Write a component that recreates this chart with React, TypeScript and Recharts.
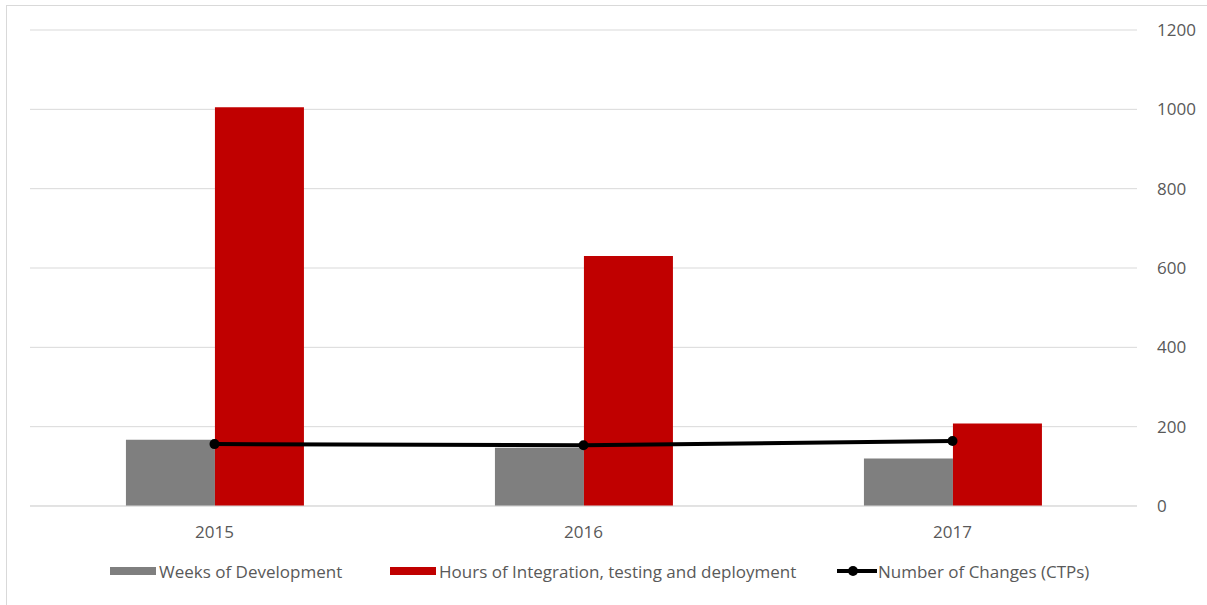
import React from "react";
import {
  ComposedChart,
  Bar,
  Line,
  XAxis,
  YAxis,
  CartesianGrid,
} from "recharts";

const years = ["2015", "2016", "2017"];
const weeksOfDevelopment = [167, 147, 120];
const hoursOfIntegration = [1005, 630, 208];
const numberOfChanges = [156, 153, 164];
const yTicks = [0, 200, 400, 600, 800, 1000, 1200];

const data = years.map((year, i) => ({
  year,
  weeks: weeksOfDevelopment[i],
  hours: hoursOfIntegration[i],
  changes: numberOfChanges[i],
}));

const FONT = "'Open Sans', sans-serif";
const TEXT = "#595959";

const legendItems = [
  { label: "Weeks of Development", color: "#7f7f7f", kind: "bar", left: 110 },
  { label: "Hours of Integration, testing and deployment", color: "#c00000", kind: "bar", left: 390 },
  { label: "Number of Changes (CTPs)", color: "#000000", kind: "line", left: 837 },
];

const App: React.FC = () => {
  return (
    <div
      style={{
        position: "absolute",
        left: 0,
        top: 0,
        width: 1207,
        height: 605,
        background: "#fff",
        fontFamily: FONT,
      }}
    >
      {/* outer chart frame */}
      <div
        style={{
          position: "absolute",
          left: 6,
          top: 5,
          right: 0,
          bottom: 0,
          borderTop: "1px solid #d9d9d9",
          borderLeft: "1px solid #d9d9d9",
        }}
      />
      <ComposedChart
        width={1207}
        height={605}
        data={data}
        margin={{ top: 30, right: 0, left: 30, bottom: 59 }}
        barCategoryGap="26%"
        barGap={0}
      >
        <CartesianGrid vertical={false} stroke="#d9d9d9" />
        <XAxis
          dataKey="year"
          height={40}
          axisLine={{ stroke: "#d9d9d9" }}
          tickLine={false}
          tick={{ fill: TEXT, fontSize: 17, fontFamily: FONT }}
          tickMargin={14}
        />
        <YAxis
          orientation="right"
          width={70}
          domain={[0, 1200]}
          ticks={yTicks}
          axisLine={false}
          tickLine={false}
          tickMargin={14}
          tick={{ fill: TEXT, fontSize: 17, fontFamily: FONT, textAnchor: "start" }}
        />
        <Bar dataKey="weeks" fill="#7f7f7f" isAnimationActive={false} />
        <Bar dataKey="hours" fill="#c00000" isAnimationActive={false} />
        <Line
          dataKey="changes"
          stroke="#000"
          strokeWidth={4}
          dot={{ r: 5, fill: "#000", stroke: "#000", strokeWidth: 0 }}
          isAnimationActive={false}
        />
      </ComposedChart>
      {legendItems.map((item) => (
        <div
          key={item.label}
          style={{
            position: "absolute",
            top: 559,
            left: item.left,
            height: 24,
            display: "flex",
            alignItems: "center",
            fontSize: 17,
            color: TEXT,
            whiteSpace: "nowrap",
          }}
        >
          {item.kind === "bar" ? (
            <div
              style={{ width: 46, height: 8, background: item.color, marginRight: 3 }}
            />
          ) : (
            <svg width={40} height={12} style={{ marginRight: 1 }}>
              <line x1={0} y1={6} x2={40} y2={6} stroke={item.color} strokeWidth={4} />
              <circle cx={16} cy={6} r={5} fill={item.color} />
            </svg>
          )}
          <span>{item.label}</span>
        </div>
      ))}
    </div>
  );
};

export default App;
